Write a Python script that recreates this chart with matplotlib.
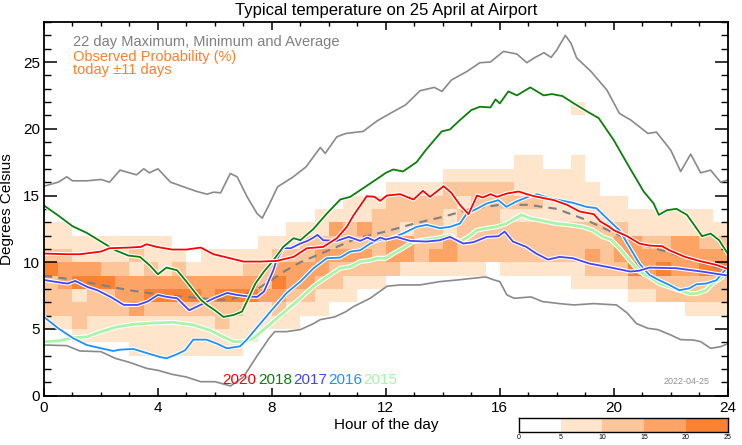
import matplotlib
matplotlib.use('Agg')
import matplotlib.pyplot as plt
import numpy as np
from matplotlib.colors import ListedColormap, BoundaryNorm
import matplotlib.patheffects as pe

plt.rcParams['font.family'] = ['Liberation Sans', 'DejaVu Sans']

# ---------------- data ----------------
title = "Typical temperature on 25 April at Airport"
prob_classes = [0, 5, 10, 15, 20, 25]          # colour-bar class edges (%)
class_colors = ['#ffffff', '#fee5cc', '#fdc59a', '#fca365', '#fb8232']
hour_edges = np.arange(0, 24.01, 0.5)          # half-hour columns
temp_edges = np.arange(2, 23, 1)               # 1 degree rows (2..22)

# probability class per cell, rows from 21-22 C (top) down to 2-3 C (bottom)
prob_rows = [
    "000000000000000000000000000000000000010000000000",  # 21
    "000000000000000000000000000000000000000000000000",  # 20
    "000000000000000000000000000000000000000000000000",  # 19
    "000000000000000000000000000000000000000000000000",  # 18
    "000000000000000000000000000000000110010000000000",  # 17
    "000000000000000000000000000011111111110000000000",  # 16
    "000000000000000000000000111122222111111000000000",  # 15
    "000000000000000000000111222221222221111110000000",  # 14
    "000000000000000000011112222212221111111111111110",  # 13
    "110000000000000001113232212212222222222221111111",  # 12
    "111111111000000111222222332232222222222233223322",  # 11
    "221111211101111122233332332332222222223233333333",  # 10
    "433322121211112233332222211111101111112224343344",  # 9
    "234443333333333243322111000000000000011112222222",  # 8
    "221223344443444332211100000000000000000001122222",  # 7
    "222222322222221121110000000000000000000000000111",  # 6
    "112111111111211111000000000000000000000000000000",  # 5
    "001111111111111000000000000000000000000000000000",  # 4
    "000000111111110000000000000000000000000000000000",  # 3
    "000000000000000000000000000000000000000000000000",  # 2
]

max_pts = [(0, 15.7), (0.5, 16.0), (0.8, 16.4), (1.0, 16.1), (1.5, 16.1), (2.0, 16.2),
           (2.3, 16.0), (2.67, 16.9), (3.0, 16.7), (3.25, 16.55), (3.5, 17.0), (3.7, 16.7),
           (4.0, 17.0), (4.44, 16.0), (4.9, 15.65), (5.37, 15.3), (5.72, 15.1), (5.96, 15.25),
           (6.2, 15.2), (6.54, 16.65), (6.78, 16.4), (7.13, 14.9), (7.48, 13.65), (7.66, 13.3),
           (7.9, 14.3), (8.2, 15.65), (8.75, 16.4), (9.2, 17.15), (9.7, 18.6), (9.87, 18.15),
           (10.28, 19.4), (10.6, 19.65), (11.2, 19.8), (11.7, 20.6), (12.15, 21.15), (12.7, 21.8),
           (13.2, 22.85), (13.7, 23.1), (13.97, 22.8), (14.3, 23.65), (14.85, 24.3), (15.3, 24.95),
           (15.67, 25.0), (16.13, 25.8), (16.6, 25.6), (16.95, 24.95), (17.2, 25.3), (17.55, 25.7),
           (17.8, 25.35), (18.0, 25.9), (18.3, 27.0), (18.5, 26.4), (18.7, 25.3), (19.2, 24.3),
           (19.76, 22.9), (20.2, 21.15), (20.6, 20.65), (21.2, 19.65), (21.5, 19.75), (22.0, 18.4),
           (22.35, 16.8), (22.7, 18.1), (23.05, 16.7), (23.4, 16.9), (23.75, 16.0), (24.0, 16.15)]

min_pts = [(0, 3.8), (0.8, 3.75), (1.26, 3.35), (2.0, 3.3), (2.5, 2.8), (3.0, 2.5), (3.6, 2.05),
           (4.0, 1.9), (4.5, 1.6), (5.0, 1.4), (5.5, 1.05), (6.0, 1.05), (6.55, 0.73), (7.0, 1.4),
           (7.5, 3.05), (7.9, 4.3), (8.1, 4.8), (8.5, 4.8), (9.0, 4.95), (9.46, 5.4), (9.7, 5.7),
           (10.2, 5.9), (10.6, 6.3), (10.86, 6.67), (11.45, 7.3), (12.04, 8.2), (12.5, 8.3),
           (13.2, 8.3), (13.9, 8.55), (14.5, 8.67), (15.5, 8.9), (15.8, 8.67), (16.0, 8.55),
           (16.25, 7.55), (16.5, 7.3), (17.1, 7.4), (17.5, 7.05), (18.1, 6.9), (18.6, 6.8),
           (19.3, 6.9), (20.1, 6.8), (20.47, 6.2), (20.8, 5.4), (21.2, 5.05), (21.55, 4.95),
           (22.0, 4.55), (22.35, 4.2), (22.8, 4.17), (23.05, 4.05), (23.4, 3.55), (23.75, 3.67),
           (24.0, 3.9)]

avg_pts = [(0, 9.0), (1, 8.7), (2, 8.3), (3, 7.9), (4, 7.6), (5, 7.4), (6, 7.2), (6.5, 7.2),
           (7, 7.5), (7.5, 8.0), (8, 8.7), (8.5, 9.4), (9, 10.0), (10, 10.9), (11, 11.8),
           (12, 12.3), (13, 12.9), (14, 13.4), (15, 14.0), (16, 14.3), (17, 14.3), (18, 14.0),
           (19, 13.2), (20, 12.2), (21, 11.3), (22, 10.7), (23, 10.0), (24, 9.4)]

y2018 = [(0, 14.25), (0.5, 13.5), (1.0, 12.7), (1.5, 12.2), (2.0, 11.55), (2.5, 10.9), (2.96, 10.5),
         (3.37, 10.4), (3.72, 9.75), (4.0, 9.1), (4.3, 9.6), (4.67, 9.4), (5.0, 8.55), (5.5, 7.2),
         (5.72, 6.8), (6.0, 6.4), (6.3, 5.9), (6.66, 6.05), (6.95, 6.3), (7.2, 7.4), (7.42, 8.4),
         (7.72, 9.3), (8.0, 10.0), (8.4, 11.15), (8.76, 11.8), (9.0, 11.65), (9.46, 12.5),
         (9.93, 13.65), (10.4, 14.7), (10.75, 14.9), (11.1, 15.4), (11.45, 15.9), (11.8, 16.4),
         (12.0, 16.7), (12.26, 16.95), (12.6, 16.8), (13.08, 17.5), (13.4, 18.4), (13.96, 19.8),
         (14.25, 19.95), (14.6, 20.65), (15.0, 21.4), (15.3, 21.65), (15.67, 21.6), (15.85, 22.2),
         (16.0, 21.9), (16.3, 22.8), (16.6, 22.5), (17.07, 23.1), (17.54, 22.5), (17.83, 22.6),
         (18.2, 22.45), (18.6, 21.9), (19.06, 21.3), (19.47, 20.8), (20.0, 19.15), (20.47, 17.4),
         (21.05, 15.3), (21.4, 14.4), (21.58, 13.55), (21.87, 13.9), (22.2, 14.0), (22.57, 13.55),
         (22.87, 12.65), (23.1, 11.95), (23.4, 12.15), (23.7, 11.65), (24.0, 10.65)]

y2020 = [(0, 10.65), (0.8, 10.6), (1.26, 10.6), (2.0, 10.8), (2.3, 11.05), (3.0, 11.1), (3.4, 11.15),
         (3.6, 11.35), (3.95, 11.15), (4.5, 10.95), (5.0, 10.95), (5.5, 11.1), (5.95, 10.6),
         (6.53, 10.3), (7.0, 10.05), (7.6, 10.05), (8.17, 10.1), (8.76, 10.4), (9.23, 11.05),
         (9.8, 11.15), (10.28, 11.8), (10.63, 12.65), (10.86, 13.5), (11.33, 14.95), (11.6, 14.9),
         (11.8, 14.6), (12.04, 15.0), (12.5, 15.1), (12.97, 14.7), (13.3, 15.35), (13.55, 14.9),
         (14.03, 15.7), (14.3, 15.2), (14.6, 14.3), (14.9, 13.6), (15.2, 15.0), (15.4, 14.85),
         (15.67, 15.1), (15.9, 14.9), (16.25, 15.15), (16.66, 15.3), (16.95, 15.1), (17.2, 14.95),
         (17.55, 14.8), (17.9, 14.65), (18.36, 14.3), (18.8, 13.8), (19.3, 13.6), (19.53, 13.05),
         (19.85, 12.65), (20.0, 12.4), (20.47, 11.95), (20.9, 11.4), (21.25, 11.25), (21.7, 11.2),
         (21.95, 10.9), (22.5, 10.4), (23.0, 10.1), (23.3, 9.95), (23.6, 9.8), (24.0, 9.5)]

y2017 = [(0, 8.67), (0.35, 8.55), (0.82, 8.4), (1.1, 8.6), (1.52, 8.15), (1.87, 7.9), (2.34, 7.4),
         (2.8, 6.8), (3.28, 6.8), (3.63, 7.05), (4.0, 7.55), (4.32, 7.4), (4.67, 7.3), (5.1, 6.4),
         (5.49, 6.8), (5.96, 7.3), (6.43, 7.7), (6.78, 7.55), (7.13, 7.45), (7.48, 7.4), (7.72, 7.8),
         (7.9, 8.67), (8.05, 9.4), (8.17, 10.2), (8.4, 11.05), (8.66, 11.05), (9.0, 11.4),
         (9.25, 11.6), (9.46, 11.85), (9.6, 12.05), (9.8, 11.65), (10.28, 11.6), (10.7, 11.9),
         (11.1, 11.6), (11.35, 11.85), (11.6, 11.6), (11.8, 11.85), (12.0, 11.7), (12.37, 11.9),
         (12.85, 11.6), (13.43, 11.55), (13.9, 11.65), (14.25, 11.9), (14.72, 11.4), (15.07, 11.5),
         (15.54, 11.9), (15.95, 11.95), (16.17, 12.3), (16.46, 11.55), (16.93, 11.15), (17.28, 10.65),
         (17.69, 10.2), (18.1, 10.4), (18.57, 10.3), (19.15, 9.9), (19.9, 9.6), (20.58, 9.3),
         (20.9, 9.37), (21.25, 9.6), (22.2, 9.55), (23.1, 9.3), (23.7, 9.1), (24.0, 9.0)]

y2016 = [(0, 5.9), (0.5, 5.05), (1.03, 4.3), (1.5, 3.8), (2.0, 3.55), (2.43, 3.35), (2.67, 3.45),
         (3.14, 3.5), (3.6, 3.2), (4.07, 2.9), (4.3, 2.8), (4.66, 3.1), (4.95, 3.4), (5.24, 4.2),
         (5.7, 4.2), (6.07, 3.9), (6.42, 3.55), (6.88, 3.7), (7.12, 4.2), (7.59, 5.4), (8.05, 6.55),
         (8.52, 7.7), (9.0, 8.55), (9.46, 9.55), (9.93, 10.3), (10.4, 10.35), (10.75, 10.8),
         (11.1, 10.9), (11.45, 11.4), (11.8, 11.7), (12.1, 11.75), (12.6, 12.15), (13.08, 12.65),
         (13.43, 12.8), (13.9, 12.55), (14.25, 12.65), (14.6, 12.9), (14.84, 13.65), (15.19, 14.0),
         (15.54, 14.4), (15.95, 14.65), (16.23, 14.15), (16.58, 14.55), (17.05, 14.95), (17.3, 15.1),
         (17.75, 14.8), (18.1, 14.65), (18.57, 14.45), (19.04, 14.15), (19.39, 14.05), (19.85, 13.1),
         (20.2, 12.4), (20.55, 11.15), (20.9, 9.9), (21.25, 9.05), (21.6, 8.65), (21.95, 8.3),
         (22.3, 7.9), (22.66, 8.05), (22.9, 8.35), (23.24, 8.4), (23.6, 8.65), (23.88, 9.35),
         (24.0, 9.6)]

y2015 = [(0, 4.05), (0.5, 4.1), (1.03, 4.35), (1.5, 4.4), (2.0, 4.8), (2.55, 5.15), (3.14, 5.35),
         (3.84, 5.45), (4.54, 5.5), (5.24, 5.3), (5.83, 4.9), (6.3, 4.4), (6.65, 4.05), (7.0, 4.05),
         (7.35, 4.3), (7.82, 5.15), (8.4, 6.2), (9.0, 7.3), (9.46, 8.2), (9.93, 8.9), (10.4, 9.55),
         (10.75, 9.67), (11.1, 10.05), (11.45, 10.15), (11.7, 10.3), (12.0, 10.3), (12.26, 10.65),
         (12.6, 11.05), (12.96, 11.55), (13.43, 11.7), (13.78, 11.8), (14.25, 12.0), (14.6, 11.55),
         (14.9, 11.9), (15.19, 12.4), (15.54, 12.55), (15.88, 12.65), (16.23, 12.9), (16.75, 13.55),
         (17.05, 13.3), (17.63, 13.05), (17.98, 12.9), (18.45, 12.8), (18.92, 12.65), (19.27, 12.4),
         (19.62, 11.9), (19.9, 11.7), (20.2, 11.05), (20.55, 10.15), (20.9, 9.3), (21.25, 8.9),
         (21.6, 8.4), (21.95, 8.15), (22.3, 7.9), (22.66, 7.65), (22.9, 7.65), (23.24, 7.9),
         (23.47, 8.4), (23.82, 8.9), (24.0, 9.4)]

years = ['2020', '2018', '2017', '2016', '2015']
year_colors = {'2020': '#ff0000', '2018': '#0a800a', '2017': '#4444ff',
               '2016': '#1e8fff', '2015': '#a8f5a8'}
year_data = {'2020': y2020, '2018': y2018, '2017': y2017, '2016': y2016, '2015': y2015}

# ---------------- figure ----------------
W, H = 742, 445
fig = plt.figure(figsize=(W / 100, H / 100), dpi=100)
ax = fig.add_axes([44 / W, 1 - 395.7 / H, (727.7 - 44) / W, (395.7 - 22) / H])

grid = np.array([[int(ch) for ch in row] for row in prob_rows[::-1]])
cmap = ListedColormap(class_colors)
norm = BoundaryNorm(np.arange(-0.5, len(class_colors)), cmap.N)
ax.pcolormesh(hour_edges, temp_edges, grid, cmap=cmap, norm=norm,
              shading='flat', antialiased=False, edgecolor='none')

def xy(pts):
    return [p[0] for p in pts], [p[1] for p in pts]

gray = '#8a8a8a'
ax.plot(*xy(max_pts), color=gray, lw=1.2)
ax.plot(*xy(min_pts), color=gray, lw=1.2)
ax.plot(*xy(avg_pts), color='#808080', lw=1.5, ls=(0, (4, 3)))

for yr in ['2015', '2016', '2017', '2018', '2020']:
    lw = 2.0 if yr == '2015' else 1.3
    ax.plot(*xy(year_data[yr]), color=year_colors[yr], lw=lw,
            path_effects=[pe.Stroke(linewidth=lw + 1.6, foreground='white'), pe.Normal()])

ax.set_xlim(0, 24)
ax.set_ylim(0, 28)
ax.set_xticks(range(0, 25, 4))
ax.set_xticks(range(0, 25, 1), minor=True)
ax.set_yticks(range(0, 26, 5))
ax.set_yticks(range(0, 29, 1), minor=True)
ax.tick_params(axis='x', which='major', direction='in', length=6, width=1.1,
               top=True, labelsize=11, pad=4)
ax.tick_params(axis='x', which='minor', direction='in', length=3, width=1.0, top=True)
ax.tick_params(axis='y', which='major', direction='in', length=9.5, width=1.1,
               right=True, labelsize=11, pad=3)
ax.tick_params(axis='y', which='minor', direction='in', length=5, width=1.0, right=True)
for s in ax.spines.values():
    s.set_linewidth(1.3)

ax.set_xlabel('Hour of the day', fontsize=11, labelpad=2)
ax.set_ylabel('Degrees Celsius', fontsize=11, labelpad=6)
fig.text(386 / W, 1 - 10 / H, title, ha='center', va='center', fontsize=12)

tx = (73 - 44) / (727.7 - 44)
ax.text(tx, 0.9465, '22 day Maximum, Minimum and Average', transform=ax.transAxes,
        color='#808080', fontsize=10.5, va='center')
ax.text(tx, 0.9063, 'Observed Probability (%)', transform=ax.transAxes,
        color='#ff7f2a', fontsize=10.5, va='center')
ax.text(tx, 0.8716, 'today \u00b111 days', transform=ax.transAxes,
        color='#ff7f2a', fontsize=10.5, va='center')

year_x = [222.7, 258, 293, 328, 363]
for yr, px in zip(years, year_x):
    ax.text((px - 44) / (727.7 - 44), (395.7 - 380) / (395.7 - 22), yr,
            transform=ax.transAxes, color=year_colors[yr], fontsize=11, va='center')

ax.text((710 - 44) / (727.7 - 44), (395.7 - 381) / (395.7 - 22), '2022-04-25',
        transform=ax.transAxes, color='#909090', fontsize=6.5, ha='right', va='center')

# colour bar
cax = fig.add_axes([519 / W, 1 - 431.7 / H, (727.7 - 519) / W, (431.7 - 418.3) / H])
cax.pcolormesh(prob_classes, [0, 1], np.array([[0, 1, 2, 3, 4]]), cmap=cmap, norm=norm,
               antialiased=False)
cax.set_xlim(0, 25)
cax.set_ylim(0, 1)
cax.set_yticks([])
cax.set_xticks(prob_classes)
cax.tick_params(axis='x', length=0, labelsize=5, pad=1.5)
for s in cax.spines.values():
    s.set_linewidth(1.0)

fig.savefig('out.png', dpi=100)
